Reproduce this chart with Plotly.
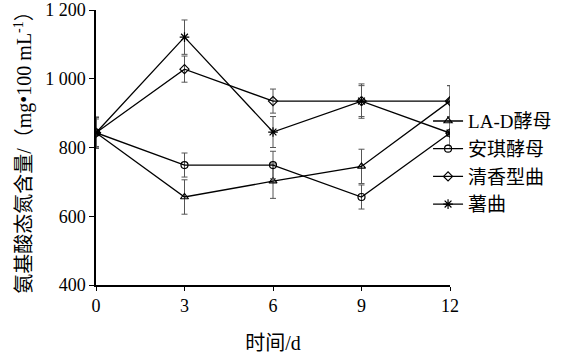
import plotly.graph_objects as go

days = [0, 3, 6, 9, 12]
names = ["LA-D酵母", "安琪酵母", "清香型曲", "薯曲"]
lad = [843, 656, 702, 745, 935]
anqi = [843, 749, 749, 656, 842]
qingxiang = [843, 1028, 935, 935, 935]
shuqu = [843, 1121, 845, 935, 842]
lad_err = [45, 50, 50, 50, 45]
anqi_err = [40, 35, 40, 35, 35]
qingxiang_err = [45, 38, 35, 45, 45]
shuqu_err = [45, 50, 45, 50, 45]
yticks = [400, 600, 800, 1000, 1200]
yticklabels = ["400", "600", "800", "1 000", "1 200"]
xticks = [0, 3, 6, 9, 12]

series = [
    (names[0], lad, lad_err, "triangle-up-open", 7),
    (names[1], anqi, anqi_err, "circle-open", 7),
    (names[2], qingxiang, qingxiang_err, "diamond-open", 7),
    (names[3], shuqu, shuqu_err, "asterisk-open", 8),
]

FONT = "Liberation Serif, Times New Roman, Noto Sans CJK SC, serif"

fig = go.Figure()
for i, (nm, ys, es, sym, sz) in enumerate(series):
    fig.add_trace(go.Scatter(
        x=days, y=ys, name=nm, mode="lines+markers",
        line=dict(color="black", width=1.3),
        marker=dict(symbol=sym, size=sz, color="black", line=dict(color="black", width=1.2)),
        error_y=dict(type="data", array=es, visible=True, color="#555555", thickness=1, width=3),
        legendgroup=f"g{i}",
    ))

fig.update_layout(
    width=584, height=354,
    margin=dict(l=96, r=134, t=10, b=69),
    paper_bgcolor="white", plot_bgcolor="white",
    font=dict(family=FONT, color="#000000", size=18),
    showlegend=True,
    legend=dict(x=0.938, xanchor="left", y=0.445, yanchor="middle",
                font=dict(size=19, family=FONT, color="#000000"), bgcolor="rgba(0,0,0,0)",
                traceorder="grouped", tracegroupgap=0, itemwidth=30),
    xaxis=dict(range=[0, 12], tickvals=xticks, ticks="outside", ticklen=4,
               showline=True, linecolor="black", linewidth=1.5, tickcolor="black",
               showgrid=False, zeroline=False, tickfont=dict(size=18, color="#000000"),
               automargin=False,
               title=dict(text="时间/d", font=dict(size=20, color="#000000"), standoff=22)),
    yaxis=dict(range=[400, 1200], tickvals=yticks, ticktext=yticklabels, ticks="outside",
               ticklen=5, showline=True, linecolor="black", linewidth=1.5, tickcolor="black",
               showgrid=False, zeroline=False, tickfont=dict(size=18, color="#000000"),
               automargin=False,
               title=dict(text="氨基酸态氮含量/（mg•100 mL<sup>-1</sup>）",
                          font=dict(size=20, color="#000000"), standoff=8)),
)

fig.write_html("out.html")
